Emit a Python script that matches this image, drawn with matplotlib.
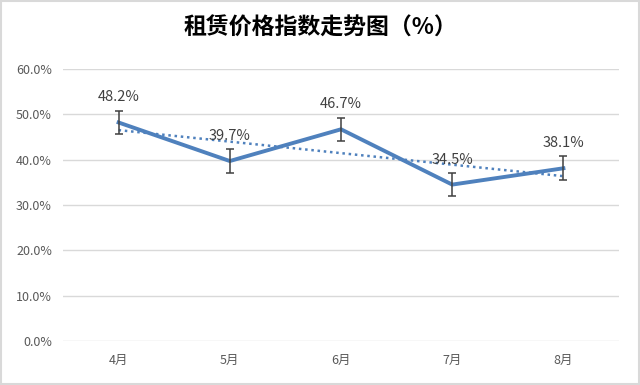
import numpy as np
import matplotlib
matplotlib.use("Agg")
import matplotlib.pyplot as plt

plt.rcParams['font.family'] = ['Noto Sans CJK SC', 'DejaVu Sans']

months = ["4月", "5月", "6月", "7月", "8月"]
values = [48.2, 39.7, 46.7, 34.5, 38.1]
err = 2.6
yticks = [0, 10, 20, 30, 40, 50, 60]

fig = plt.figure(figsize=(6.4, 3.85), dpi=100)
ax = fig.add_axes([63 / 640, 1 - 341 / 385, (619 - 63) / 640, (341 - 69) / 385])

x = np.arange(len(months))
line_color = "#4f81bd"

# linear trend line
k, b = np.polyfit(x, values, 1)
ax.plot(x, k * x + b, color=line_color, lw=1.8, ls=(0, (1, 1.5)), zorder=2)

ax.plot(x, values, color=line_color, lw=2.8, zorder=3, solid_joinstyle="miter")
ax.errorbar(x, values, yerr=err, fmt="none", ecolor="#404040", elinewidth=1.1,
            capsize=3, capthick=1.1, zorder=4)

for xi, v in zip(x, values):
    ax.annotate(f"{v:.1f}%", (xi, v), xytext=(0, 13), textcoords="offset points",
                ha="center", va="bottom", fontsize=10.5, color="#404040", zorder=5)

ax.set_xlim(-0.5, len(months) - 0.5)
ax.set_ylim(0, 60)
ax.set_yticks(yticks)
ax.set_yticklabels([f"{t:.1f}%" for t in yticks])
ax.set_xticks(x)
ax.set_xticklabels(months)
ax.tick_params(axis="both", length=0, labelsize=9, colors="#595959")
ax.tick_params(axis="y", pad=8)
ax.tick_params(axis="x", pad=9)
ax.grid(axis="y", color="#d9d9d9", lw=1)
ax.set_axisbelow(True)
for s in ax.spines.values():
    s.set_visible(False)

fig.text(0.5, 1 - 28 / 385, "租赁价格指数走势图（%）", ha="center", va="center",
         fontsize=16.5, fontweight="bold", color="#000000")

# outer border
fig.patches.append(plt.Rectangle((0.002, 0.003), 0.996, 0.994, transform=fig.transFigure,
                                 fill=False, edgecolor="#d9d9d9", lw=1.5))

fig.savefig("out.png", dpi=100)
